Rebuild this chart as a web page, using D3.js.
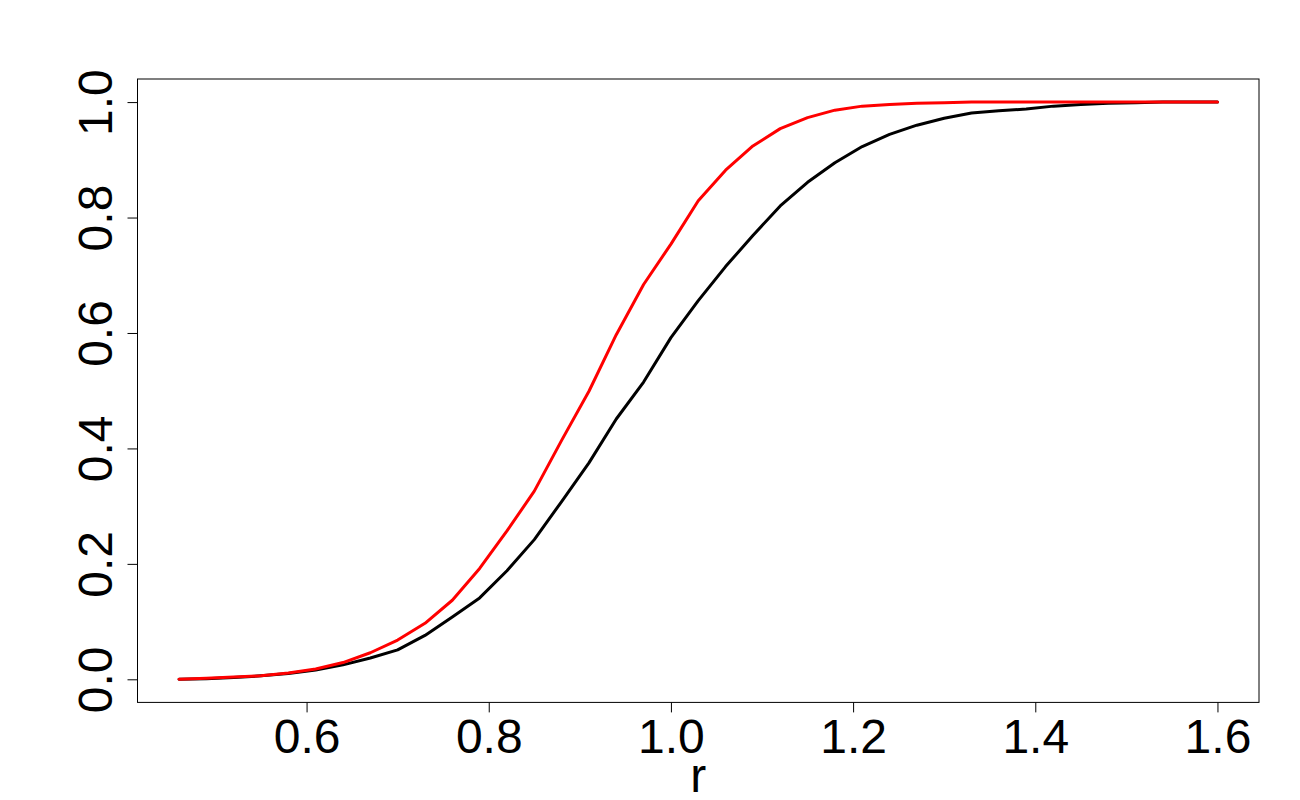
<!DOCTYPE html>
<html>
<head>
<meta charset="utf-8">
<script src="https://cdn.jsdelivr.net/npm/d3@7"></script>
<style>
  html, body { margin: 0; padding: 0; background: #fff; }
  svg { display: block; }
  text { font-family: "Liberation Sans", Arial, sans-serif; }
</style>
</head>
<body>
<svg id="chart" width="1300" height="800"></svg>
<script>
const rValues = [0.46, 0.49, 0.52, 0.55, 0.58, 0.61, 0.64, 0.67, 0.70, 0.73,
  0.76, 0.79, 0.82, 0.85, 0.88, 0.91, 0.94, 0.97, 1.00, 1.03,
  1.06, 1.09, 1.12, 1.15, 1.18, 1.21, 1.24, 1.27, 1.30, 1.33,
  1.36, 1.39, 1.42, 1.45, 1.48, 1.51, 1.54, 1.57, 1.60];

const blackSeries = [0.000, 0.001, 0.003, 0.006, 0.010, 0.016, 0.025, 0.037, 0.051, 0.076,
  0.108, 0.141, 0.188, 0.242, 0.308, 0.375, 0.451, 0.515, 0.592, 0.656,
  0.715, 0.769, 0.820, 0.861, 0.895, 0.923, 0.944, 0.960, 0.972, 0.981,
  0.985, 0.988, 0.993, 0.996, 0.998, 0.999, 1.000, 1.000, 1.000];

const redSeries = [0.000, 0.002, 0.004, 0.006, 0.011, 0.018, 0.029, 0.046, 0.068, 0.097,
  0.137, 0.192, 0.257, 0.326, 0.414, 0.499, 0.597, 0.684, 0.754, 0.829,
  0.882, 0.924, 0.954, 0.973, 0.986, 0.993, 0.996, 0.998, 0.999, 1.000,
  1.000, 1.000, 1.000, 1.000, 1.000, 1.000, 1.000, 1.000, 1.000];

const xTicks = [0.6, 0.8, 1.0, 1.2, 1.4, 1.6];
const yTicks = [0.0, 0.2, 0.4, 0.6, 0.8, 1.0];
const xLabel = "r";

const svg = d3.select("#chart");
const plotLeft = 137.5, plotRight = 1259, plotTop = 79, plotBottom = 702.4;

const xPad = (1.60 - 0.46) * 0.04;
const x = d3.scaleLinear().domain([0.46 - xPad, 1.60 + xPad]).range([plotLeft, plotRight]);
const y = d3.scaleLinear().domain([-0.04, 1.04]).range([plotBottom, plotTop]);

// box
svg.append("rect")
  .attr("x", plotLeft).attr("y", plotTop)
  .attr("width", plotRight - plotLeft).attr("height", plotBottom - plotTop)
  .attr("fill", "none").attr("stroke", "#000").attr("stroke-width", 1);

// x axis
const gx = svg.append("g")
  .attr("transform", `translate(0,${plotBottom})`)
  .call(d3.axisBottom(x).tickValues(xTicks).tickFormat(d3.format(".1f")).tickSize(10).tickSizeOuter(0));
gx.select(".domain").remove();
gx.selectAll(".tick line").attr("stroke", "#000").attr("stroke-width", 1);
gx.selectAll(".tick text")
  .attr("y", 50.5).attr("dy", 0)
  .attr("fill", "#000")
  .style("font-size", "48px")
  .style("font-family", "'Liberation Sans', Arial, sans-serif");

// y axis
const gy = svg.append("g")
  .attr("transform", `translate(${plotLeft},0)`)
  .call(d3.axisLeft(y).tickValues(yTicks).tickFormat(d3.format(".1f")).tickSize(10).tickSizeOuter(0));
gy.select(".domain").remove();
gy.selectAll(".tick line").attr("stroke", "#000").attr("stroke-width", 1);
gy.selectAll(".tick text")
  .attr("x", 0).attr("y", 0).attr("dy", 0)
  .attr("text-anchor", "middle")
  .attr("transform", "translate(-25.5,0) rotate(-90)")
  .attr("fill", "#000")
  .style("font-size", "48px")
  .style("font-family", "'Liberation Sans', Arial, sans-serif");

// x label
svg.append("text")
  .attr("x", (plotLeft + plotRight) / 2)
  .attr("y", 792)
  .attr("text-anchor", "middle")
  .attr("fill", "#000")
  .style("font-size", "48px")
  .text(xLabel);

const line = d3.line().x(d => x(d[0])).y(d => y(d[1]));

svg.append("path")
  .datum(rValues.map((r, i) => [r, blackSeries[i]]))
  .attr("d", line)
  .attr("fill", "none").attr("stroke", "#000")
  .attr("stroke-width", 3).attr("stroke-linejoin", "round").attr("stroke-linecap", "round");

svg.append("path")
  .datum(rValues.map((r, i) => [r, redSeries[i]]))
  .attr("d", line)
  .attr("fill", "none").attr("stroke", "#ff0000")
  .attr("stroke-width", 3).attr("stroke-linejoin", "round").attr("stroke-linecap", "round");
</script>
</body>
</html>
